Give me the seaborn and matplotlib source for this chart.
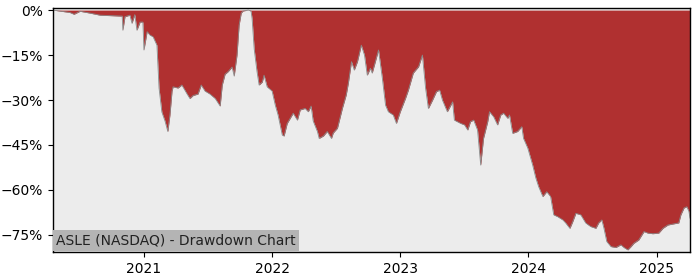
import matplotlib
matplotlib.use("Agg")
import matplotlib.pyplot as plt
import matplotlib.dates as mdates
from matplotlib.ticker import FuncFormatter, FixedLocator
import seaborn as sns
import pandas as pd

dates = [
    "2020-04-17", "2020-06-04", "2020-06-16", "2020-07-03", "2020-07-31", "2020-08-29",
    "2020-10-25", "2020-10-31", "2020-11-02", "2020-11-08", "2020-11-22", "2020-11-28",
    "2020-12-06", "2020-12-12", "2020-12-21", "2020-12-29", "2021-01-01", "2021-01-10",
    "2021-01-18", "2021-01-27", "2021-02-07", "2021-02-13", "2021-02-21", "2021-03-02",
    "2021-03-10", "2021-03-16", "2021-03-22", "2021-03-25", "2021-04-08", "2021-04-19",
    "2021-05-04", "2021-05-12", "2021-05-21", "2021-06-04", "2021-06-13", "2021-06-24",
    "2021-07-08", "2021-07-23", "2021-08-06", "2021-08-12", "2021-08-20", "2021-08-29",
    "2021-09-09", "2021-09-15", "2021-09-23", "2021-09-29", "2021-10-05", "2021-10-10",
    "2021-10-25", "2021-11-02", "2021-11-05", "2021-11-11", "2021-11-19", "2021-11-25",
    "2021-12-04", "2021-12-09", "2021-12-18", "2022-01-01", "2022-01-10", "2022-01-18",
    "2022-01-30", "2022-02-04", "2022-02-13", "2022-02-22", "2022-03-02", "2022-03-14",
    "2022-03-22", "2022-04-05", "2022-04-14", "2022-04-22", "2022-04-28", "2022-05-10",
    "2022-05-15", "2022-05-27", "2022-06-07", "2022-06-19", "2022-06-24", "2022-07-06",
    "2022-07-20", "2022-07-31", "2022-08-06", "2022-08-15", "2022-08-23", "2022-09-01",
    "2022-09-12", "2022-09-21", "2022-09-29", "2022-10-08", "2022-10-13", "2022-10-22",
    "2022-10-31", "2022-11-11", "2022-11-20", "2022-11-28", "2022-12-12", "2022-12-21",
    "2023-01-01", "2023-01-16", "2023-01-24", "2023-02-07", "2023-02-22", "2023-03-05",
    "2023-03-14", "2023-03-22", "2023-04-03", "2023-04-14", "2023-04-23", "2023-05-01",
    "2023-05-15", "2023-05-30", "2023-06-04", "2023-06-22", "2023-07-03", "2023-07-12",
    "2023-07-20", "2023-07-29", "2023-08-09", "2023-08-18", "2023-08-26", "2023-09-07",
    "2023-09-12", "2023-09-24", "2023-10-05", "2023-10-14", "2023-10-22", "2023-11-03",
    "2023-11-08", "2023-11-17", "2023-12-01", "2023-12-13", "2023-12-18", "2023-12-30",
    "2024-01-13", "2024-01-22", "2024-01-30", "2024-02-11", "2024-02-22", "2024-03-04",
    "2024-03-13", "2024-03-24", "2024-04-08", "2024-04-16", "2024-04-28", "2024-05-06",
    "2024-05-15", "2024-05-29", "2024-06-12", "2024-06-26", "2024-07-11", "2024-07-19",
    "2024-07-28", "2024-08-03", "2024-08-11", "2024-08-23", "2024-09-06", "2024-09-20",
    "2024-09-29", "2024-10-10", "2024-10-19", "2024-10-27", "2024-11-10", "2024-11-25",
    "2024-12-06", "2024-12-20", "2025-01-06", "2025-01-18", "2025-02-01", "2025-02-18",
    "2025-03-04", "2025-03-10", "2025-03-19", "2025-03-27", "2025-04-02", "2025-04-05",
]

drawdown_pct = [
    0.0, -0.8, -1.4, -0.4, -1.0, -1.7,
    -2.0, -2.0, -6.7, -2.2, -1.7, -4.4,
    -1.5, -6.7, -4.0, -4.0, -13.3, -7.2,
    -8.3, -8.9, -11.7, -26.0, -34.0, -37.0,
    -40.5, -35.0, -27.0, -25.6, -26.0, -25.0,
    -28.0, -29.5, -28.5, -28.0, -25.0, -27.0,
    -28.0, -29.5, -32.0, -25.0, -21.4, -20.5,
    -19.0, -22.0, -15.0, -5.0, -1.0, -0.3,
    0.0, -0.3, -2.8, -13.0, -20.5, -25.0,
    -24.0, -21.7, -25.6, -27.0, -31.7, -35.0,
    -41.7, -42.0, -37.8, -36.0, -34.4, -36.7,
    -33.3, -32.8, -33.9, -32.0, -37.0, -40.5,
    -42.8, -42.0, -40.5, -42.8, -41.0, -39.4,
    -32.8, -28.3, -24.4, -17.2, -20.0, -17.2,
    -11.7, -15.0, -21.7, -19.4, -21.0, -17.2,
    -13.3, -22.8, -31.7, -33.9, -35.0, -37.8,
    -33.9, -29.4, -26.7, -21.0, -18.9, -15.0,
    -26.0, -32.8, -30.0, -27.2, -26.7, -30.0,
    -33.9, -30.6, -36.7, -37.8, -38.3, -40.0,
    -37.2, -36.7, -40.0, -51.7, -42.8, -37.2,
    -33.9, -35.6, -38.3, -35.0, -34.4, -36.1,
    -35.0, -41.1, -40.5, -38.9, -42.8, -46.0,
    -51.7, -56.0, -58.9, -62.2, -60.6, -62.2,
    -68.3, -68.9, -70.0, -71.0, -72.8, -70.6,
    -67.8, -68.3, -71.0, -72.2, -72.8, -71.0,
    -70.0, -72.8, -77.2, -78.9, -79.2, -78.3,
    -79.2, -80.0, -78.9, -77.8, -76.7, -73.9,
    -74.4, -74.6, -74.4, -72.8, -71.7, -71.3,
    -71.0, -68.3, -66.0, -65.6, -67.2, -69.4,
]

y_ticks = [0, -15, -30, -45, -60, -75]
title_text = "ASLE (NASDAQ) - Drawdown Chart"

df = pd.DataFrame({"date": pd.to_datetime(dates), "dd": drawdown_pct})

fig = plt.figure(figsize=(7, 2.8), dpi=100)
ax = fig.add_axes([0.0757, 0.1, 0.91, 0.8725])
ax.set_facecolor("#ececec")

ax.fill_between(df["date"], df["dd"], 0, color="#b03030", linewidth=0, zorder=1)
sns.lineplot(data=df, x="date", y="dd", ax=ax, color="#8a8a8a", linewidth=0.6, zorder=2)

ax.set_xlim(df["date"].iloc[0], df["date"].iloc[-1])
ax.set_ylim(-80.7, 0.8)
ax.yaxis.set_major_locator(FixedLocator(y_ticks))
ax.yaxis.set_major_formatter(FuncFormatter(lambda v, p: f"{v:.0f}%".replace("-", "\u2212")))
ax.xaxis.set_major_locator(mdates.YearLocator())
ax.xaxis.set_major_formatter(mdates.DateFormatter("%Y"))
ax.set_xlabel("")
ax.set_ylabel("")
ax.tick_params(labelsize=10)
for s in ax.spines.values():
    s.set_color("black")
    s.set_linewidth(1.0)

ax.text(0.005, 0.018, title_text, transform=ax.transAxes, fontsize=10, color="#222222",
        ha="left", va="bottom",
        bbox=dict(facecolor="#b4b4b4", edgecolor="none", pad=2.5), zorder=5)

fig.savefig("out.png", dpi=100)
